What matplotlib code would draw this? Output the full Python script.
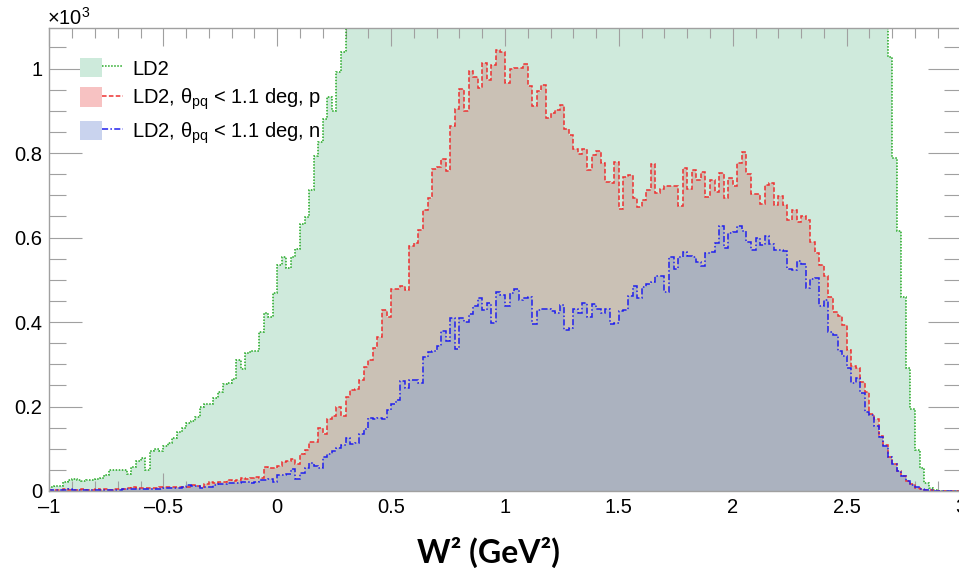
import numpy as np
import matplotlib
matplotlib.use("Agg")
import matplotlib.pyplot as plt
from matplotlib.patches import Patch
from matplotlib.lines import Line2D
from matplotlib.legend_handler import HandlerTuple
from matplotlib.ticker import MultipleLocator, FuncFormatter

# W^2 histogram, 200 bins from -1 to 3 GeV^2 (counts)
w2_lo, w2_hi, n_bins = -1.0, 3.0, 200

ld2_counts = [
    9, 12, 12, 22, 25, 28, 26, 24, 25, 27,
    28, 31, 37, 49, 50, 50, 50, 40, 56, 72,
    77, 49, 95, 99, 95, 106, 114, 126, 140, 150,
    160, 165, 175, 200, 205, 207, 220, 235, 253, 255,
    265, 310, 289, 327, 331, 331, 377, 422, 412, 468,
    535, 555, 527, 555, 574, 632, 648, 712, 794, 827,
    880, 932, 900, 991, 1040, 1120, 1190, 1260, 1340, 1420,
    1500, 1580, 1660, 1750, 1830, 1920, 2000, 2080, 2170, 2250,
    2330, 2410, 2480, 2560, 2630, 2700, 2760, 2820, 2880, 2930,
    2980, 3020, 3060, 3090, 3110, 3130, 3140, 3150, 3150, 3140,
    3130, 3110, 3090, 3060, 3030, 3000, 2960, 2920, 2880, 2840,
    2800, 2760, 2720, 2690, 2660, 2630, 2600, 2580, 2560, 2540,
    2520, 2510, 2500, 2490, 2480, 2480, 2470, 2470, 2470, 2470,
    2480, 2480, 2490, 2500, 2510, 2520, 2530, 2550, 2560, 2580,
    2590, 2610, 2620, 2640, 2650, 2660, 2670, 2680, 2690, 2690,
    2690, 2690, 2680, 2670, 2650, 2630, 2600, 2570, 2530, 2490,
    2440, 2390, 2330, 2270, 2200, 2130, 2050, 1970, 1890, 1810,
    1730, 1650, 1580, 1510, 1450, 1390, 1340, 1290, 1250, 1210,
    1190, 1160, 1130, 1110, 1027, 788, 615, 460, 291, 194,
    97, 54, 18, 7, 2, 0, 0, 0, 0, 0,
]

p_counts = [
    3, 2, 3, 4, 3, 2, 3, 4, 3, 3,
    4, 3, 4, 3, 5, 5, 5, 6, 9, 7,
    7, 7, 7, 8, 10, 9, 9, 9, 9, 10,
    9, 15, 13, 9, 17, 21, 18, 21, 22, 27,
    23, 26, 30, 28, 31, 33, 31, 56, 55, 55,
    60, 68, 71, 75, 63, 88, 97, 115, 115, 148,
    135, 170, 178, 200, 178, 222, 240, 241, 263, 294,
    310, 338, 364, 428, 411, 478, 478, 486, 475, 581,
    586, 618, 665, 694, 762, 768, 786, 758, 864, 904,
    951, 900, 995, 979, 953, 1012, 972, 1008, 1044, 1040,
    965, 999, 1001, 1002, 1011, 959, 911, 947, 961, 882,
    894, 903, 914, 856, 843, 809, 798, 809, 760, 795,
    805, 776, 732, 728, 779, 667, 744, 748, 693, 673,
    690, 712, 774, 705, 716, 723, 721, 721, 675, 764,
    715, 759, 737, 756, 697, 736, 707, 753, 693, 742,
    722, 777, 802, 750, 703, 703, 680, 724, 730, 677,
    699, 678, 642, 665, 637, 650, 642, 589, 564, 536,
    509, 460, 424, 414, 394, 334, 295, 290, 257, 235,
    182, 171, 130, 109, 80, 65, 48, 36, 23, 16,
    8, 5, 3, 2, 1, 1, 0, 0, 0, 0,
]

n_counts = [
    2, 2, 2, 2, 5, 3, 3, 3, 3, 3,
    3, 3, 3, 3, 3, 3, 5, 5, 5, 5,
    5, 5, 5, 5, 5, 7, 7, 7, 7, 9,
    15, 13, 13, 7, 9, 9, 15, 17, 17, 18,
    18, 20, 22, 22, 18, 22, 25, 25, 28, 22,
    38, 38, 40, 53, 28, 43, 55, 66, 59, 54,
    80, 88, 95, 102, 110, 126, 112, 113, 135, 146,
    172, 170, 172, 170, 192, 207, 215, 260, 243, 263,
    263, 255, 318, 328, 332, 343, 379, 356, 409, 335,
    409, 401, 419, 439, 456, 428, 446, 397, 470, 463,
    438, 468, 477, 452, 458, 460, 395, 428, 430, 430,
    426, 422, 440, 381, 385, 432, 422, 446, 411, 443,
    432, 422, 432, 395, 397, 427, 428, 462, 486, 458,
    484, 490, 495, 509, 509, 472, 555, 525, 553, 565,
    557, 553, 543, 532, 563, 566, 586, 627, 576, 610,
    614, 627, 616, 590, 570, 600, 582, 604, 585, 571,
    570, 567, 525, 522, 544, 537, 480, 503, 504, 437,
    451, 377, 369, 332, 319, 290, 255, 267, 231, 187,
    181, 153, 128, 107, 81, 64, 48, 35, 24, 14,
    9, 5, 3, 2, 1, 1, 1, 1, 0, 0,
]

labels = ["LD2",
          r"LD2, θ$_{\mathrm{pq}}$ < 1.1 deg, p",
          r"LD2, θ$_{\mathrm{pq}}$ < 1.1 deg, n"]

plt.rcParams["font.family"] = ["Liberation Sans", "DejaVu Sans"]
plt.rcParams["mathtext.fontset"] = "custom"
plt.rcParams["mathtext.rm"] = "Liberation Sans"
plt.rcParams["mathtext.it"] = "Liberation Sans:italic"

edges = np.linspace(w2_lo, w2_hi, n_bins + 1)
ld2 = np.array(ld2_counts) / 1000.0
prot = np.array(p_counts) / 1000.0
neut = np.array(n_counts) / 1000.0

fig = plt.figure(figsize=(9.59, 5.68), dpi=100)
ax = fig.add_axes([49.4 / 959, 77 / 568, 911.2 / 959, 463 / 568])

# fills (colours as they look where the histograms overlap)
ax.stairs(ld2, edges, fill=True, color="#cfeadc", lw=0, zorder=1)
ax.stairs(prot, edges, fill=True, color="#cac1b5", lw=0, zorder=2)
ax.stairs(neut, edges, fill=True, color="#abb2bf", lw=0, zorder=3)

green, red, blue = "#22a822", "#ee3030", "#2020ee"
ls_g, ls_r, ls_b = (0, (1, 1)), (0, (3, 1.5)), (0, (4, 1.5, 1, 1.5))
ax.stairs(ld2, edges, color=green, lw=1.1, ls=ls_g, zorder=4)
ax.stairs(prot, edges, color=red, lw=1.1, ls=ls_r, zorder=5)
ax.stairs(neut, edges, color=blue, lw=1.1, ls=ls_b, zorder=6)

ax.set_xlim(w2_lo, w2_hi)
ax.set_ylim(0, 1.096)

ax.xaxis.set_major_locator(MultipleLocator(0.5))
ax.xaxis.set_minor_locator(MultipleLocator(0.1))
ax.yaxis.set_major_locator(MultipleLocator(0.2))
ax.yaxis.set_minor_locator(MultipleLocator(0.05))
fmt = FuncFormatter(lambda v, pos: f"{v:g}".replace("-", "\u2013"))
ax.xaxis.set_major_formatter(fmt)
ax.yaxis.set_major_formatter(fmt)

axcol = "#a0a0a0"
for s in ax.spines.values():
    s.set_color(axcol)
    s.set_linewidth(1.0)
    s.set_zorder(7)
ax.tick_params(which="both", direction="in", top=True, right=True,
               color=axcol, width=0.8, labelsize=14.5, labelcolor="black")
ax.tick_params(axis="x", which="major", length=13, pad=5)
ax.tick_params(axis="x", which="minor", length=7)
ax.tick_params(axis="y", which="major", length=24, pad=5)
ax.tick_params(axis="y", which="minor", length=12)

handles = [
    (Patch(fc="#cdeadb", ec="none"), Line2D([], [], color=green, ls=ls_g, lw=1.1)),
    (Patch(fc="#f7c2c2", ec="none"), Line2D([], [], color=red, ls=ls_r, lw=1.1)),
    (Patch(fc="#c9d3ee", ec="none"), Line2D([], [], color=blue, ls=ls_b, lw=1.1)),
]
ax.legend(handles, labels, handler_map={tuple: HandlerTuple(ndivide=None, pad=0)},
          loc="upper left", bbox_to_anchor=((80 - 49.4) / 911.2, (491 - 58) / 463),
          frameon=False, fontsize=14.5, handlelength=2.15, handleheight=1.1,
          labelspacing=0.4, handletextpad=0.45, borderaxespad=0, borderpad=0)

fig.text(47 / 959, 1 - 25 / 568, "\u00d710$^{3}$", fontsize=14.5, ha="left", va="baseline")
fig.text(488 / 959, 5 / 568, "W\u00b2 (GeV\u00b2)", fontsize=23, fontweight="bold",
         family="Lato", ha="center", va="baseline")

fig.savefig("out.png", dpi=100)
